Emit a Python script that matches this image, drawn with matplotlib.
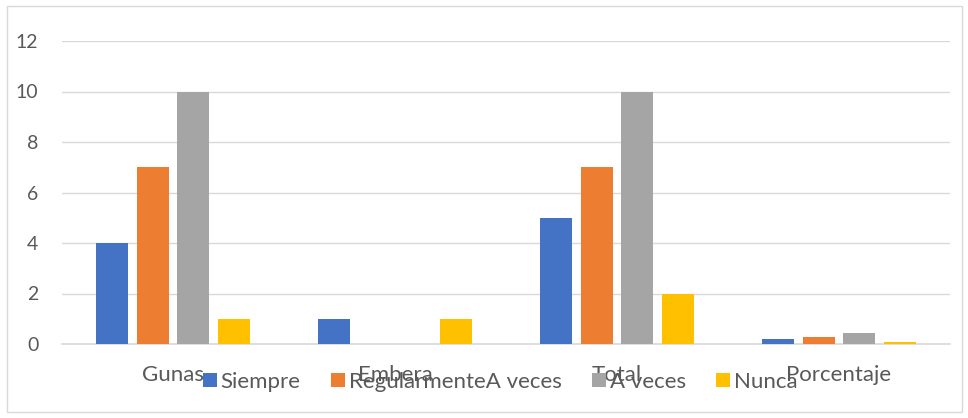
import matplotlib
matplotlib.use("Agg")
import matplotlib.pyplot as plt
import numpy as np
from matplotlib.patches import Rectangle

categories = ["Gunas", "Embera", "Total", "Porcentaje"]
series_names = ["Siempre", "RegularmenteA veces", "A veces", "Nunca"]
siempre = [4, 1, 5, 0.21]
regularmente = [7, 0, 7, 0.29]
a_veces = [10, 0, 10, 0.42]
nunca = [1, 1, 2, 0.08]
yticks = [0, 2, 4, 6, 8, 10, 12]

colors = ["#4472C4", "#ED7D31", "#A5A5A5", "#FFC000"]
txt = "#595959"
plt.rcParams['font.family'] = ['Lato', 'DejaVu Sans']

W, H = 968, 418
fig = plt.figure(figsize=(W / 100, H / 100), dpi=100)
fig.patches.append(Rectangle((7 / W, 6 / H), (962 - 7) / W, (412 - 6) / H,
                             transform=fig.transFigure, fill=False,
                             edgecolor="#D9D9D9", lw=1))
ax = fig.add_axes([62 / W, 1 - 344 / H, (950 - 62) / W, (344 - 41) / H])

x = np.arange(len(categories))
bw = 0.144
step = 0.183
data = [siempre, regularmente, a_veces, nunca]
for i, (vals, name, c) in enumerate(zip(data, series_names, colors)):
    ax.bar(x + (i - 1.5) * step, vals, width=bw, color=c, label=name, zorder=3)

ax.set_xlim(-0.5, 3.5)
ax.set_ylim(0, 12)
ax.set_yticks(yticks)
ax.set_yticklabels([str(v) for v in yticks])
ax.set_xticks(x)
ax.set_xticklabels(categories)
ax.tick_params(axis='both', length=0, colors=txt)
ax.tick_params(axis='y', pad=17, labelsize=14)
ax.tick_params(axis='x', pad=15, labelsize=16)
ax.grid(axis='y', color="#D9D9D9", lw=1, zorder=0)
for s in ["top", "right", "left"]:
    ax.spines[s].set_visible(False)
ax.spines["bottom"].set_color("#D9D9D9")
ax.spines["bottom"].set_linewidth(1.2)

leg = fig.legend(loc="center", bbox_to_anchor=(500 / W, 1 - 382 / H), ncol=4,
                 frameon=False, fontsize=16, handlelength=0.63, handleheight=0.63,
                 handletextpad=0.18, columnspacing=1.35, labelcolor=txt)

fig.savefig("out.png", dpi=100)
